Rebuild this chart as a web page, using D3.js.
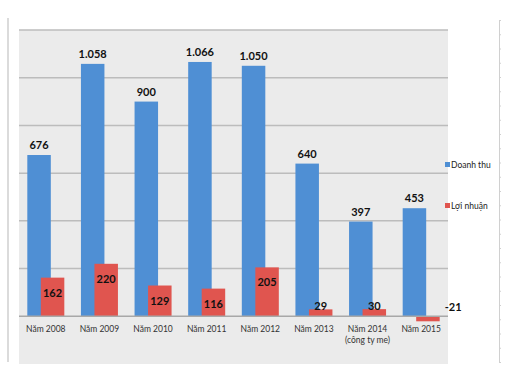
<!DOCTYPE html>
<html>
<head>
<meta charset="utf-8">
<script src="https://cdn.jsdelivr.net/npm/d3@7"></script>
<style>
  body { margin: 0; background: #fff; }
  text { font-family: Lato, "Open Sans", sans-serif; }
</style>
</head>
<body>
<div id="chart"></div>
<script>
// Data
const categories = ['2008', '2009', '2010', '2011', '2012', '2013', '2014', '2015']
const tickLabels = [
  ['Năm 2008'], ['Năm 2009'], ['Năm 2010'], ['Năm 2011'],
  ['Năm 2012'], ['Năm 2013'], ['Năm 2014', '(công ty me)'], ['Năm 2015']
]
const doanhThu = [676, 1058, 900, 1066, 1050, 640, 397, 453]
const loiNhuan = [162, 220, 129, 116, 205, 29, 30, -21]
const seriesNames = ['Doanh thu', 'Lợi nhuận']
const yTicks = [200, 400, 600, 800, 1000, 1200]

function draw() {
  const width = 512
  const height = 384
  const plot = { left: 19, right: 448, top: 30, bottom: 364 }
  const colors = ['#4f8fd4', '#e0554f']

  const svg = d3.select('#chart')
    .append('svg')
    .attr('width', width)
    .attr('height', height)

  // Vietnamese number format: 1.058
  const fmt = d3.formatLocale({
    decimal: ',', thousands: '.', grouping: [3], currency: ['', ''], minus: '-'
  }).format(',')

  // Scales
  const xScale = d3.scaleBand()
    .domain(categories)
    .range([plot.left, plot.right])
    .paddingInner(0.31)
    .paddingOuter(0.155)

  const yScale = d3.scaleLinear()
    .domain([-200, 1200])
    .range([plot.bottom, plot.top])

  const bw = xScale.bandwidth()
  const barW = bw * 0.635

  // Outer frame lines
  svg.append('line')
    .attr('x1', 8).attr('x2', 8).attr('y1', 18).attr('y2', 362)
    .attr('stroke', '#cfcfcf').attr('stroke-width', 1.5)

  const sideScale = d3.scaleLinear().domain([0, 24]).range([20, 362])
  svg.append('g')
    .attr('transform', 'translate(499,0)')
    .call(d3.axisRight(sideScale).ticks(24).tickSize(2).tickFormat(''))
    .call(g => g.selectAll('line, path').attr('stroke', '#d0d0d0'))

  // Plot background
  svg.append('rect')
    .attr('x', plot.left).attr('y', plot.top)
    .attr('width', plot.right - plot.left)
    .attr('height', plot.bottom - plot.top)
    .attr('fill', '#ebebeb')

  // Gridlines
  svg.append('g')
    .selectAll('line')
    .data(yTicks)
    .join('line')
    .attr('x1', plot.left).attr('x2', plot.right)
    .attr('y1', d => yScale(d)).attr('y2', d => yScale(d))
    .attr('stroke', '#bcbcbc').attr('stroke-width', 1.5)

  // Bars: Doanh thu
  svg.append('g')
    .selectAll('rect')
    .data(doanhThu)
    .join('rect')
    .attr('x', (d, i) => xScale(categories[i]))
    .attr('y', d => yScale(d))
    .attr('width', barW)
    .attr('height', d => yScale(0) - yScale(d))
    .attr('fill', colors[0])

  // Bars: Lợi nhuận
  svg.append('g')
    .selectAll('rect')
    .data(loiNhuan)
    .join('rect')
    .attr('x', (d, i) => xScale(categories[i]) + bw - barW)
    .attr('y', d => yScale(Math.max(0, d)))
    .attr('width', barW)
    .attr('height', d => Math.abs(yScale(0) - yScale(d)))
    .attr('fill', colors[1])

  // Baseline
  svg.append('line')
    .attr('x1', plot.left).attr('x2', plot.right)
    .attr('y1', yScale(0)).attr('y2', yScale(0))
    .attr('stroke', '#a8a8a8').attr('stroke-width', 1.5)

  // Value labels
  svg.append('g')
    .selectAll('text')
    .data(doanhThu)
    .join('text')
    .attr('x', (d, i) => xScale(categories[i]) + barW / 2)
    .attr('y', d => yScale(d) - 6)
    .attr('text-anchor', 'middle')
    .attr('font-size', 11)
    .attr('font-weight', 'bold')
    .attr('fill', '#111')
    .text(d => fmt(d))

  svg.append('g')
    .selectAll('text')
    .data(loiNhuan)
    .join('text')
    .attr('x', (d, i) => d < 0
      ? xScale(categories[i]) + bw + 5
      : xScale(categories[i]) + bw - barW / 2)
    .attr('y', d => {
      if (d < 0) return yScale(0) - 5
      const h = yScale(0) - yScale(d)
      return h > 20 ? yScale(d) + 19 : yScale(d) + 1
    })
    .attr('text-anchor', d => d < 0 ? 'start' : 'middle')
    .attr('font-size', 11)
    .attr('font-weight', 'bold')
    .attr('fill', '#111')
    .text(d => fmt(d))

  // Category labels
  const xAxisGroup = svg.append('g')
    .selectAll('text')
    .data(tickLabels)
    .join('text')
    .attr('x', (d, i) => xScale(categories[i]) + bw / 2)
    .attr('y', yScale(0) + 16)
    .attr('text-anchor', 'middle')
    .attr('font-size', 8.5)
    .attr('fill', '#333')

  xAxisGroup.selectAll('tspan')
    .data(d => d)
    .join('tspan')
    .attr('x', function () { return d3.select(this.parentNode).attr('x') })
    .attr('dy', (d, i) => i === 0 ? 0 : 11)
    .text(d => d)

  // Legend
  const legend = svg.append('g')
    .selectAll('g')
    .data(seriesNames)
    .join('g')
    .attr('transform', (d, i) => `translate(445, ${165 + i * 41})`)

  legend.append('rect')
    .attr('x', 0).attr('y', -3)
    .attr('width', 5).attr('height', 5)
    .attr('fill', (d, i) => colors[i])

  legend.append('text')
    .attr('x', 6).attr('y', 3)
    .attr('font-size', 8.5)
    .attr('fill', '#222')
    .text(d => d)
}

draw()
</script>
</body>
</html>
